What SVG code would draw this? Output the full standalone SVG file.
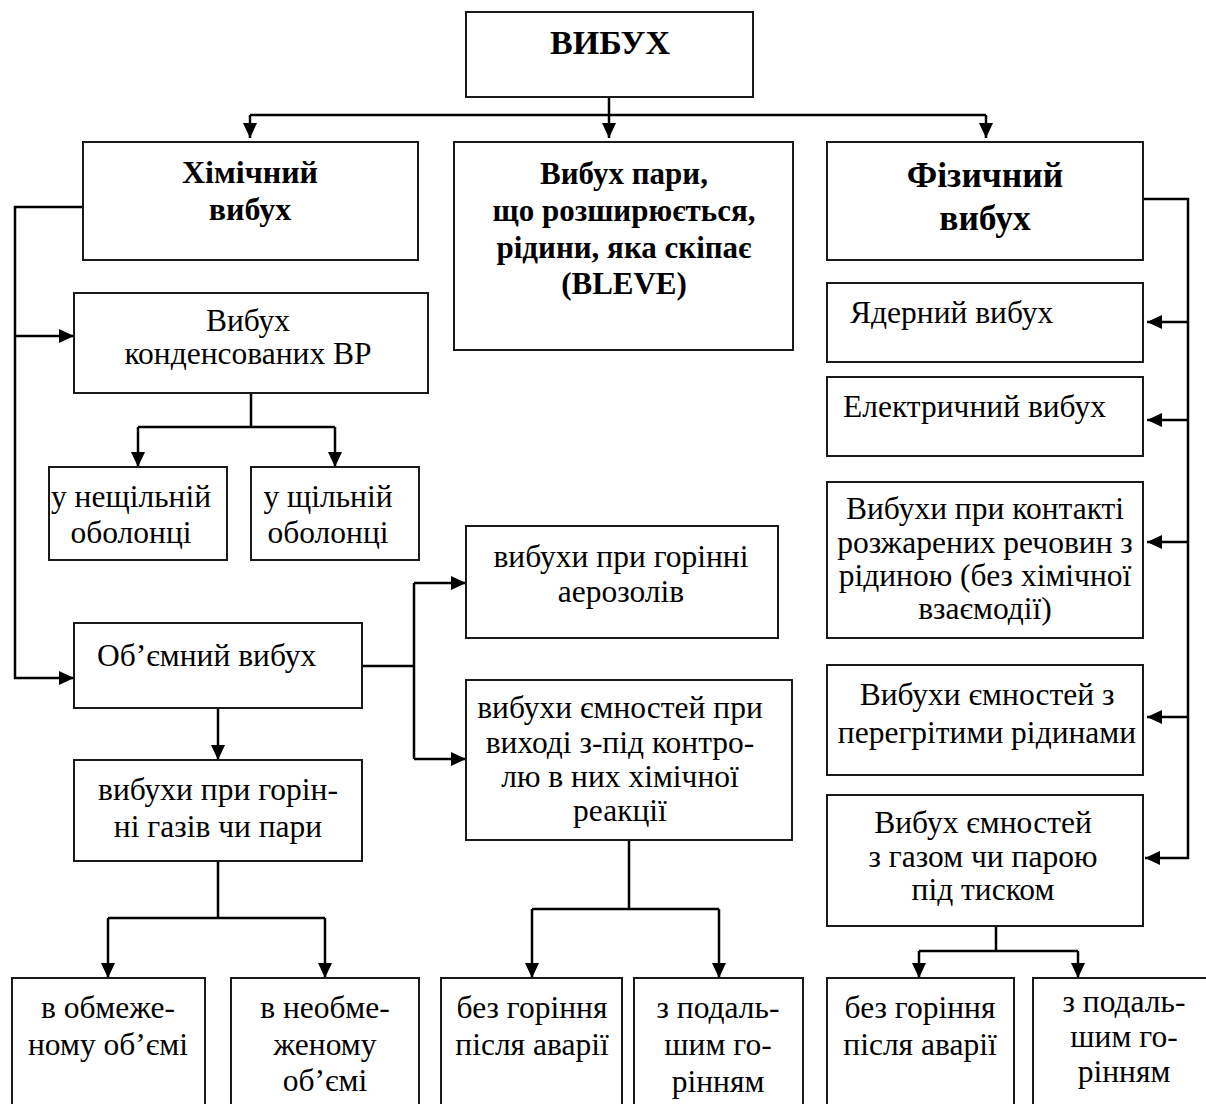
<svg xmlns="http://www.w3.org/2000/svg" width="1206" height="1104" viewBox="0 0 1206 1104">
<style>
.box{fill:#fff;stroke:#1a1a1a;stroke-width:2}
.t{font-family:"Liberation Serif","Times New Roman",serif;fill:#000;text-anchor:middle}
.r{font-size:31.5px}
.b{font-weight:bold;font-size:32px}
.s{text-anchor:start}
.c{fill:none;stroke:#000;stroke-width:2.5}
</style>
<defs>
<marker id="ah" markerUnits="userSpaceOnUse" markerWidth="16" markerHeight="16" refX="15" refY="7" orient="auto">
<path d="M0,0 L15,7 L0,14 z" fill="#000"/>
</marker>
</defs>
<rect width="1206" height="1104" fill="#fff"/>
<g id="connectors">
<path class="c" d="M609,93 V138" stroke-width="3.5" marker-end="url(#ah)"/>
<path class="c" d="M250,115 H986"/>
<path class="c" d="M250,115 V138" marker-end="url(#ah)"/>
<path class="c" d="M986,115 V138" marker-end="url(#ah)"/>
<path class="c" d="M83,207 H15 V678 H74" marker-end="url(#ah)"/>
<path class="c" d="M15,336 H74" marker-end="url(#ah)"/>
<path class="c" d="M251,393 V427 M138,427 H335"/>
<path class="c" d="M138,427 V467" marker-end="url(#ah)"/>
<path class="c" d="M335,427 V467" marker-end="url(#ah)"/>
<path class="c" d="M218,708 V760" marker-end="url(#ah)"/>
<path class="c" d="M362,666 H414 M414,583 V759"/>
<path class="c" d="M414,583 H466" marker-end="url(#ah)"/>
<path class="c" d="M414,759 H466" marker-end="url(#ah)"/>
<path class="c" d="M218,861 V918 M108,918 H325"/>
<path class="c" d="M108,918 V978" marker-end="url(#ah)"/>
<path class="c" d="M325,918 V978" marker-end="url(#ah)"/>
<path class="c" d="M629,840 V909 M532,909 H719"/>
<path class="c" d="M532,909 V978" marker-end="url(#ah)"/>
<path class="c" d="M719,909 V978" marker-end="url(#ah)"/>
<path class="c" d="M1143,199 H1188 V858 H1145" marker-end="url(#ah)"/>
<path class="c" d="M1188,322 H1147" marker-end="url(#ah)"/>
<path class="c" d="M1188,420 H1147" marker-end="url(#ah)"/>
<path class="c" d="M1188,542 H1147" marker-end="url(#ah)"/>
<path class="c" d="M1188,717 H1147" marker-end="url(#ah)"/>
<path class="c" d="M996,926 V951 M919,951 H1078"/>
<path class="c" d="M919,951 V978" marker-end="url(#ah)"/>
<path class="c" d="M1078,951 V978" marker-end="url(#ah)"/>
</g>
<g id="n-vybukh">
<rect class="box" x="466" y="12" width="287" height="85"/>
<text class="t b" x="610" y="54" style="font-size:34px">ВИБУХ</text>
</g>
<g id="n-khim">
<rect class="box" x="83" y="142" width="335" height="118"/>
<text class="t b"><tspan x="250" y="183">Хімічний</tspan><tspan x="250" y="220">вибух</tspan></text>
</g>
<g id="n-bleve">
<rect class="box" x="454" y="142" width="339" height="208"/>
<text class="t b" style="font-size:31px"><tspan x="624" y="184">Вибух пари,</tspan><tspan x="624" y="221">що розширюється,</tspan><tspan x="624" y="258">рідини, яка скіпає</tspan><tspan x="624" y="294">(BLEVE)</tspan></text>
</g>
<g id="n-fiz">
<rect class="box" x="827" y="142" width="316" height="118"/>
<text class="t b" style="font-size:35.5px"><tspan x="985" y="187">Фізичний</tspan><tspan x="985" y="230">вибух</tspan></text>
</g>
<g id="n-kond">
<rect class="box" x="74" y="293" width="354" height="100"/>
<text class="t r"><tspan x="248" y="331">Вибух</tspan><tspan x="248" y="364">конденсованих ВР</tspan></text>
</g>
<g id="n-neshch">
<rect class="box" x="49" y="467" width="178" height="93"/>
<text class="t r"><tspan x="131" y="507">у нещільній</tspan><tspan x="131" y="543">оболонці</tspan></text>
</g>
<g id="n-shch">
<rect class="box" x="251" y="467" width="168" height="93"/>
<text class="t r"><tspan x="328" y="507">у щільній</tspan><tspan x="328" y="543">оболонці</tspan></text>
</g>
<g id="n-obiem">
<rect class="box" x="74" y="623" width="288" height="85"/>
<text class="t r s" x="97" y="666">Об’ємний вибух</text>
</g>
<g id="n-gaz">
<rect class="box" x="74" y="760" width="288" height="101"/>
<text class="t r"><tspan x="218" y="800">вибухи при горін-</tspan><tspan x="218" y="837">ні газів чи пари</tspan></text>
</g>
<g id="n-obmezh">
<rect class="box" x="12" y="978" width="193" height="140"/>
<text class="t r"><tspan x="108" y="1018">в обмеже-</tspan><tspan x="108" y="1055">ному об’ємі</tspan></text>
</g>
<g id="n-neobmezh">
<rect class="box" x="231" y="978" width="188" height="140"/>
<text class="t r"><tspan x="325" y="1018">в необме-</tspan><tspan x="325" y="1055">женому</tspan><tspan x="325" y="1091">об’ємі</tspan></text>
</g>
<g id="n-aero">
<rect class="box" x="466" y="526" width="312" height="112"/>
<text class="t r"><tspan x="621" y="567">вибухи при горінні</tspan><tspan x="621" y="602">аерозолів</tspan></text>
</g>
<g id="n-emn">
<rect class="box" x="466" y="680" width="326" height="160"/>
<text class="t r"><tspan x="620" y="718">вибухи ємностей при</tspan><tspan x="620" y="753">виході з-під контро-</tspan><tspan x="620" y="787">лю в них хімічної</tspan><tspan x="620" y="821">реакції</tspan></text>
</g>
<g id="n-bez1">
<rect class="box" x="441" y="978" width="181" height="140"/>
<text class="t r"><tspan x="532" y="1018">без горіння</tspan><tspan x="532" y="1055">після аварії</tspan></text>
</g>
<g id="n-zpod1">
<rect class="box" x="634" y="978" width="169" height="140"/>
<text class="t r"><tspan x="718" y="1018">з подаль-</tspan><tspan x="718" y="1055">шим го-</tspan><tspan x="718" y="1092">рінням</tspan></text>
</g>
<g id="n-yad">
<rect class="box" x="827" y="283" width="316" height="79"/>
<text class="t r s" x="850" y="323">Ядерний вибух</text>
</g>
<g id="n-el">
<rect class="box" x="827" y="377" width="316" height="79"/>
<text class="t r s" x="843" y="417">Електричний вибух</text>
</g>
<g id="n-kont">
<rect class="box" x="827" y="482" width="316" height="156"/>
<text class="t r"><tspan x="985" y="519">Вибухи при контакті</tspan><tspan x="985" y="553">розжарених речовин з</tspan><tspan x="985" y="586">рідиною (без хімічної</tspan><tspan x="985" y="619">взаємодії)</tspan></text>
</g>
<g id="n-pereg">
<rect class="box" x="827" y="665" width="316" height="110"/>
<text class="t r"><tspan x="987" y="705">Вибухи ємностей з</tspan><tspan x="987" y="743">перегрітими рідинами</tspan></text>
</g>
<g id="n-tysk">
<rect class="box" x="827" y="795" width="316" height="131"/>
<text class="t r"><tspan x="983" y="833">Вибух ємностей</tspan><tspan x="983" y="867">з газом чи парою</tspan><tspan x="983" y="900">під тиском</tspan></text>
</g>
<g id="n-bez2">
<rect class="box" x="827" y="978" width="187" height="140"/>
<text class="t r"><tspan x="920" y="1018">без горіння</tspan><tspan x="920" y="1055">після аварії</tspan></text>
</g>
<g id="n-zpod2">
<rect class="box" x="1033" y="978" width="190" height="140"/>
<text class="t r"><tspan x="1124" y="1012">з подаль-</tspan><tspan x="1124" y="1047">шим го-</tspan><tspan x="1124" y="1082">рінням</tspan></text>
</g>
</svg>
